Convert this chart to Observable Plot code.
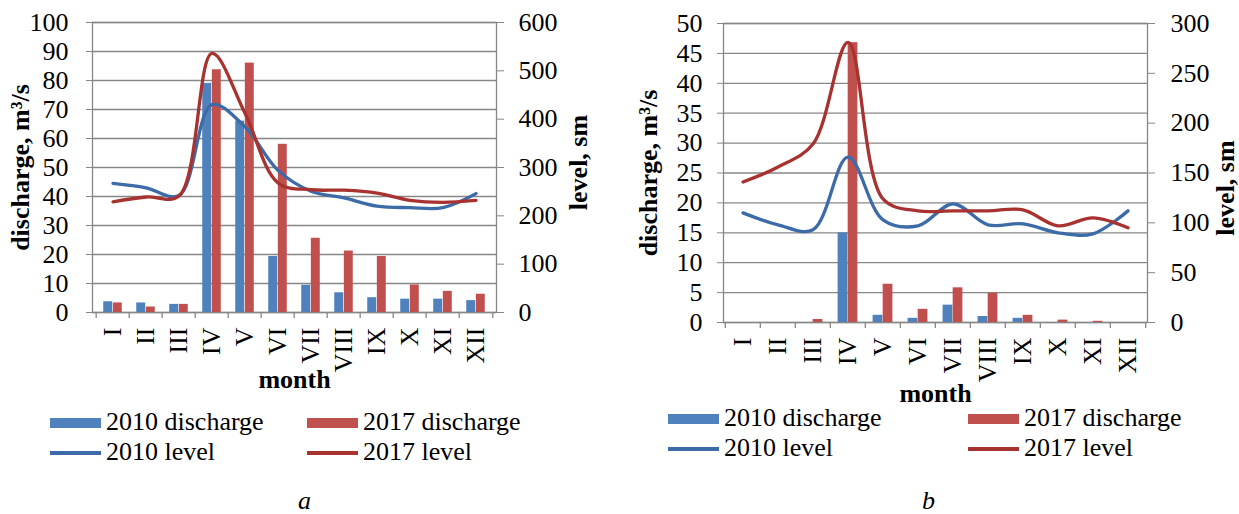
<!DOCTYPE html>
<html>
<head>
<meta charset="utf-8">
<script src="https://cdn.jsdelivr.net/npm/d3@7"></script>
<script src="https://cdn.jsdelivr.net/npm/@observablehq/plot@0.6"></script>
<style>
  html, body { margin: 0; padding: 0; background: #fff; }
  #root { position: relative; width: 1239px; height: 514px; overflow: hidden; background: #fff;
          font-family: "Liberation Serif", "Times New Roman", serif; color: #000; }
  .panel { position: absolute; top: 0; }
  .leg { position: absolute; font-size: 26px; line-height: 26px; white-space: nowrap; }
  .sw { position: absolute; }
  .cap { position: absolute; font-size: 26px; line-height: 26px; font-style: italic; }
</style>
</head>
<body>
<div id="root"></div>
<script>
// ---------- data ----------
const months = ["I", "II", "III", "IV", "V", "VI", "VII", "VIII", "IX", "X", "XI", "XII"];

// panel a
const dischargeA2010 = [3.7, 3.3, 2.8, 79, 66, 19.3, 9.4, 6.8, 5.1, 4.6, 4.6, 4.1];
const dischargeA2017 = [3.3, 1.9, 2.8, 83.7, 86, 58, 25.6, 21.2, 19.3, 9.5, 7.3, 6.3];
const levelA2010 = [267, 258, 242, 430, 384, 294, 251, 237, 220, 217, 217, 246];
const levelA2017 = [229, 239, 241, 536, 412, 268, 254, 253, 247, 232, 228, 232];
const dischargeTicksA = [0, 10, 20, 30, 40, 50, 60, 70, 80, 90, 100];
const levelTicksA = [0, 100, 200, 300, 400, 500, 600];

// panel b
const dischargeB2010 = [0, 0, 0, 15, 1.2, 0.7, 2.9, 1.0, 0.7, 0, 0, 0];
const dischargeB2017 = [0, 0, 0.5, 46.8, 6.4, 2.2, 5.8, 4.9, 1.2, 0.4, 0.2, 0];
const levelB2010 = [110, 98, 93, 166, 103, 97, 119, 98, 99, 90, 89, 112];
const levelB2017 = [141, 156, 179, 281, 124, 112, 112, 112, 113, 97, 105, 95];
const dischargeTicksB = [0, 5, 10, 15, 20, 25, 30, 35, 40, 45, 50];
const levelTicksB = [0, 50, 100, 150, 200, 250, 300];

const seriesNames = ["2010 discharge", "2017 discharge", "2010 level", "2017 level"];
const captions = ["a", "b"];

// ---------- style ----------
const C = {
  bar10: "#4F81BD", bar17: "#C0504D",
  line10: "#3C6BA8", line17: "#A8322F",
  grid: "#878787", text: "#000"
};
const FONT = "'Liberation Serif', 'Times New Roman', serif";
const FS = 26;

function panel(cfg) {
  const {d10, d17, l10, l17, dTicks, lTicks, width, height, ml, mr, mt, mb,
         dTitleDx, lTitleDx, lTitleDy, monthDy} = cfg;
  const yMax = dTicks[dTicks.length - 1];
  const ratio = lTicks[lTicks.length - 1] / yMax;
  const band = (width - ml - mr) / months.length;
  const pxPerUnit = (height - mt - mb) / yMax;
  const rows = months.map((m, i) => ({m, d10: d10[i], d17: d17[i], l10: l10[i] / ratio, l17: l17[i] / ratio}));
  const tickLen = 6 / pxPerUnit;
  return Plot.plot({
    width, height,
    marginLeft: ml, marginRight: mr, marginTop: mt, marginBottom: mb,
    style: {fontFamily: FONT, fontSize: FS + "px", color: C.text, background: "#fff", overflow: "visible"},
    x: {type: "band", domain: months, padding: 0},
    y: {domain: [0, yMax]},
    marks: [
      Plot.ruleY(dTicks, {stroke: C.grid, strokeWidth: 1.3}),
      Plot.frame({stroke: C.grid, strokeWidth: 1.3}),
      Plot.barY(rows, {x: "m", y: "d10", fill: C.bar10, insetLeft: band * 0.215, insetRight: band * 0.5}),
      Plot.barY(rows, {x: "m", y: "d17", fill: C.bar17, insetLeft: band * 0.5, insetRight: band * 0.215}),
      Plot.line(rows, {x: "m", y: "l10", stroke: C.line10, strokeWidth: 3.3, curve: "catmull-rom", strokeLinecap: "round"}),
      Plot.line(rows, {x: "m", y: "l17", stroke: C.line17, strokeWidth: 3.3, curve: "catmull-rom", strokeLinecap: "round"}),
      // category boundary ticks
      Plot.ruleX(months, {x: d => d, y1: 0, y2: -tickLen, dx: -band / 2, stroke: C.grid, strokeWidth: 1.3}),
      Plot.ruleX([months[months.length - 1]], {x: d => d, y1: 0, y2: -tickLen, dx: band / 2, stroke: C.grid, strokeWidth: 1.3}),
      // axes
      Plot.axisY({ticks: dTicks, tickSize: 6, tickPadding: cfg.lPad, stroke: C.grid, fill: C.text, fontSize: FS, label: null, tickFormat: d => String(d)}),
      Plot.axisY({anchor: "right", ticks: lTicks.map(v => v / ratio), tickSize: 7, tickPadding: cfg.rPad,
                  tickFormat: d => String(Math.round(d * ratio)), stroke: C.grid, fill: C.text, fontSize: FS, label: null}),
      Plot.axisX({tickRotate: -90, tickSize: 0, tickPadding: cfg.xPad, fill: C.text, fontSize: FS, label: null}),
      // titles
      Plot.text(["discharge, m³/s"], {frameAnchor: "left", textAnchor: "middle", dx: dTitleDx, rotate: -90, fontWeight: "bold", fontSize: FS, fill: C.text}),
      Plot.text(["level, sm"], {frameAnchor: "right", textAnchor: "middle", dx: lTitleDx, dy: lTitleDy, rotate: -90, fontWeight: "bold", fontSize: FS, fill: C.text}),
      Plot.text(["month"], {frameAnchor: "bottom", dy: monthDy, fontWeight: "bold", fontSize: FS, fill: C.text})
    ]
  });
}

const root = document.getElementById("root");

function place(el, left) {
  el.classList.add("panel");
  el.style.left = left + "px";
  root.appendChild(el);
}

place(panel({
  d10: dischargeA2010, d17: dischargeA2017, l10: levelA2010, l17: levelA2017,
  dTicks: dischargeTicksA, lTicks: levelTicksA,
  width: 620, height: 400, ml: 92, mr: 124, mt: 22, mb: 88,
  lPad: 18, rPad: 15, xPad: 15,
  dTitleDx: -72, lTitleDx: 82, lTitleDy: -5, monthDy: 75
}), 0);

place(panel({
  d10: dischargeB2010, d17: dischargeB2017, l10: levelB2010, l17: levelB2017,
  dTicks: dischargeTicksB, lTicks: levelTicksB,
  width: 619, height: 400, ml: 103, mr: 92, mt: 23, mb: 78,
  lPad: 15, rPad: 16, xPad: 15,
  dTitleDx: -75, lTitleDx: 78, lTitleDy: 15, monthDy: 79
}), 620);

// ---------- legends ----------
function legend(x0, x1, rowTop) {
  const colors = [C.bar10, C.bar17, C.line10, C.line17];
  const xs = [x0, x1, x0, x1];
  seriesNames.forEach((name, i) => {
    const row = i < 2 ? 0 : 1;
    const top = rowTop + row * 30;
    const sw = document.createElement("div");
    sw.className = "sw";
    sw.style.left = xs[i] + "px";
    sw.style.width = "51px";
    sw.style.background = colors[i];
    if (i < 2) { sw.style.top = (top + 8) + "px"; sw.style.height = "10px"; }
    else { sw.style.top = (top + 11) + "px"; sw.style.height = "3.5px"; }
    root.appendChild(sw);
    const t = document.createElement("div");
    t.className = "leg";
    t.style.left = (xs[i] + 56) + "px";
    t.style.top = (top - 1) + "px";
    t.textContent = name;
    root.appendChild(t);
  });
}
legend(50, 307, 410);
legend(668, 968, 406);

[[298, captions[0]], [922, captions[1]]].forEach(([x, c]) => {
  const d = document.createElement("div");
  d.className = "cap";
  d.style.left = x + "px";
  d.style.top = "488px";
  d.textContent = c;
  root.appendChild(d);
});
</script>
</body>
</html>
